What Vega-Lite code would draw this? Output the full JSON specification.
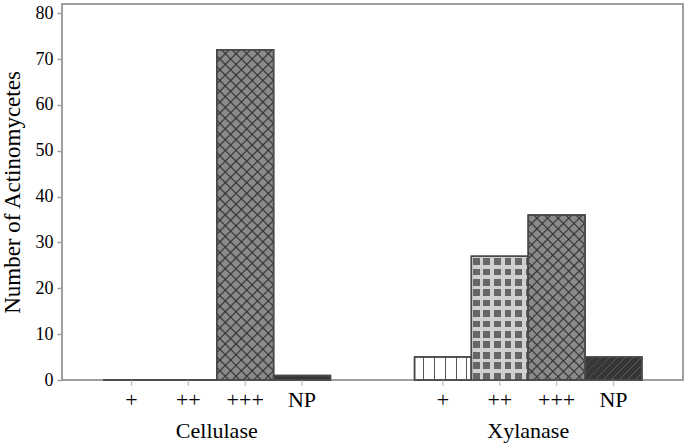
{
  "$schema": "https://vega.github.io/schema/vega-lite/v6.json",
  "width": 621,
  "height": 376,
  "autosize": {"type": "none"},
  "padding": {"left": 62, "top": 4, "right": 2, "bottom": 66},
  "background": "white",
  "config": {
    "font": "Liberation Serif",
    "view": {"stroke": "#a0a0a0", "strokeWidth": 2},
    "axis": {"grid": false, "domain": false, "labelColor": "black", "titleColor": "black", "labelFont": "Liberation Serif", "titleFont": "Liberation Serif", "titleFontWeight": "normal"}
  },
  "data": {
    "values": [
      {"enzyme": "Cellulase", "activity": "+", "count": 0},
      {"enzyme": "Cellulase", "activity": "++", "count": 0},
      {"enzyme": "Cellulase", "activity": "+++", "count": 72},
      {"enzyme": "Cellulase", "activity": "NP", "count": 1},
      {"enzyme": "Xylanase", "activity": "+", "count": 5},
      {"enzyme": "Xylanase", "activity": "++", "count": 27},
      {"enzyme": "Xylanase", "activity": "+++", "count": 36},
      {"enzyme": "Xylanase", "activity": "NP", "count": 5}
    ]
  },
  "encoding": {
    "x": {
      "field": "enzyme", "type": "nominal",
      "scale": {"paddingInner": 0.27, "paddingOuter": 0.132},
      "axis": {"title": null, "ticks": false, "tickSize": 0, "labelPadding": 40, "labelFontSize": 22, "labelAngle": 0}
    },
    "xOffset": {
      "field": "activity", "type": "nominal",
      "scale": {"domain": ["+", "++", "+++", "NP"], "paddingInner": 0, "paddingOuter": 0}
    }
  },
  "layer": [
    {
      "mark": {"type": "bar", "stroke": "#4a4a4a", "strokeWidth": 1.5},
      "encoding": {
        "y": {
          "field": "count", "type": "quantitative",
          "scale": {"domain": [0, 82], "nice": false},
          "axis": {"title": "Number of Actinomycetes", "titleFontSize": 23, "titlePadding": 11, "values": [0, 10, 20, 30, 40, 50, 60, 70, 80], "labelFontSize": 18, "labelPadding": 4, "tickSize": 5, "tickColor": "#a0a0a0", "tickWidth": 1.5}
        },
        "fill": {
          "condition": [
            {"test": "datum.activity === '+'", "value": {"gradient": "linear", "x1": 0, "y1": 0, "x2": 1, "y2": 0, "stops": [
              {"offset": 0, "color": "#ffffff"}, {"offset": 0.145, "color": "#ffffff"}, {"offset": 0.145, "color": "#555555"}, {"offset": 0.173, "color": "#555555"}, {"offset": 0.173, "color": "#ffffff"},
              {"offset": 0.338, "color": "#ffffff"}, {"offset": 0.338, "color": "#555555"}, {"offset": 0.366, "color": "#555555"}, {"offset": 0.366, "color": "#ffffff"},
              {"offset": 0.53, "color": "#ffffff"}, {"offset": 0.53, "color": "#555555"}, {"offset": 0.558, "color": "#555555"}, {"offset": 0.558, "color": "#ffffff"},
              {"offset": 0.723, "color": "#ffffff"}, {"offset": 0.723, "color": "#555555"}, {"offset": 0.751, "color": "#555555"}, {"offset": 0.751, "color": "#ffffff"},
              {"offset": 0.9, "color": "#ffffff"}, {"offset": 0.9, "color": "#555555"}, {"offset": 0.928, "color": "#555555"}, {"offset": 0.928, "color": "#ffffff"}, {"offset": 1, "color": "#ffffff"}
            ]}},
            {"test": "datum.activity === '++'", "value": {"gradient": "linear", "x1": 0, "y1": 0, "x2": 0, "y2": 1, "stops": [
              {"offset":0,"color":"#d0d0d0"},
              {"offset":0.0162,"color":"#d0d0d0"},{"offset":0.0162,"color":"#666"},{"offset":0.0703,"color":"#666"},{"offset":0.0703,"color":"#d0d0d0"},
              {"offset":0.1002,"color":"#d0d0d0"},{"offset":0.1002,"color":"#666"},{"offset":0.1543,"color":"#666"},{"offset":0.1543,"color":"#d0d0d0"},
              {"offset":0.1842,"color":"#d0d0d0"},{"offset":0.1842,"color":"#666"},{"offset":0.2383,"color":"#666"},{"offset":0.2383,"color":"#d0d0d0"},
              {"offset":0.2682,"color":"#d0d0d0"},{"offset":0.2682,"color":"#666"},{"offset":0.3223,"color":"#666"},{"offset":0.3223,"color":"#d0d0d0"},
              {"offset":0.3522,"color":"#d0d0d0"},{"offset":0.3522,"color":"#666"},{"offset":0.4063,"color":"#666"},{"offset":0.4063,"color":"#d0d0d0"},
              {"offset":0.4362,"color":"#d0d0d0"},{"offset":0.4362,"color":"#666"},{"offset":0.4903,"color":"#666"},{"offset":0.4903,"color":"#d0d0d0"},
              {"offset":0.5203,"color":"#d0d0d0"},{"offset":0.5203,"color":"#666"},{"offset":0.5744,"color":"#666"},{"offset":0.5744,"color":"#d0d0d0"},
              {"offset":0.6043,"color":"#d0d0d0"},{"offset":0.6043,"color":"#666"},{"offset":0.6584,"color":"#666"},{"offset":0.6584,"color":"#d0d0d0"},
              {"offset":0.6883,"color":"#d0d0d0"},{"offset":0.6883,"color":"#666"},{"offset":0.7424,"color":"#666"},{"offset":0.7424,"color":"#d0d0d0"},
              {"offset":0.7723,"color":"#d0d0d0"},{"offset":0.7723,"color":"#666"},{"offset":0.8264,"color":"#666"},{"offset":0.8264,"color":"#d0d0d0"},
              {"offset":0.8563,"color":"#d0d0d0"},{"offset":0.8563,"color":"#666"},{"offset":0.9104,"color":"#666"},{"offset":0.9104,"color":"#d0d0d0"},
              {"offset":0.9403,"color":"#d0d0d0"},{"offset":0.9403,"color":"#666"},{"offset":0.9944,"color":"#666"},{"offset":0.9944,"color":"#d0d0d0"},
              {"offset":1,"color":"#d0d0d0"}
            ]}},
            {"test": "datum.activity === '+++'", "value": "#8a8a8a"}
          ],
          "value": "#363636"
        }
      }
    },
    {
      "transform": [{"filter": "datum.activity === '++'"}],
      "mark": {"type": "bar", "strokeWidth": 0, "fill": {"gradient": "linear", "x1": 0, "y1": 0, "x2": 1, "y2": 0, "stops": [
        {"offset":0,"color":"#d0d0d0"},{"offset":0.0264,"color":"#d0d0d0"},{"offset":0.0264,"color":"transparent"},{"offset":0.1444,"color":"transparent"},{"offset":0.1444,"color":"#d0d0d0"},
        {"offset":0.213,"color":"#d0d0d0"},{"offset":0.213,"color":"transparent"},{"offset":0.331,"color":"transparent"},{"offset":0.331,"color":"#d0d0d0"},
        {"offset":0.3996,"color":"#d0d0d0"},{"offset":0.3996,"color":"transparent"},{"offset":0.5176,"color":"transparent"},{"offset":0.5176,"color":"#d0d0d0"},
        {"offset":0.5862,"color":"#d0d0d0"},{"offset":0.5862,"color":"transparent"},{"offset":0.7042,"color":"transparent"},{"offset":0.7042,"color":"#d0d0d0"},
        {"offset":0.7728,"color":"#d0d0d0"},{"offset":0.7728,"color":"transparent"},{"offset":0.8908,"color":"transparent"},{"offset":0.8908,"color":"#d0d0d0"},
        {"offset":0.9594,"color":"#d0d0d0"},{"offset":0.9594,"color":"transparent"},{"offset":1,"color":"transparent"}
      ]}},
      "encoding": {"y": {"field": "count", "type": "quantitative"}}
    },
    {
      "transform": [{"filter": "datum.activity === '+++'"}],
      "mark": {"type": "bar", "strokeWidth": 0},
      "encoding": {
        "y": {"field": "count", "type": "quantitative"},
        "fill": {
          "condition": {"test": "datum.enzyme === 'Cellulase'", "value": {"gradient": "linear", "x1": 0, "y1": 0, "x2": 0.196, "y2": 1.1385, "stops": [
            {"offset":0,"color":"transparent"},{"offset":0.004,"color":"#444"},{"offset":0.008,"color":"transparent"},
            {"offset":0.0278,"color":"transparent"},{"offset":0.0318,"color":"#444"},{"offset":0.0358,"color":"transparent"},
            {"offset":0.0556,"color":"transparent"},{"offset":0.0596,"color":"#444"},{"offset":0.0636,"color":"transparent"},
            {"offset":0.0833,"color":"transparent"},{"offset":0.0873,"color":"#444"},{"offset":0.0913,"color":"transparent"},
            {"offset":0.1111,"color":"transparent"},{"offset":0.1151,"color":"#444"},{"offset":0.1191,"color":"transparent"},
            {"offset":0.1389,"color":"transparent"},{"offset":0.1429,"color":"#444"},{"offset":0.1469,"color":"transparent"},
            {"offset":0.1667,"color":"transparent"},{"offset":0.1707,"color":"#444"},{"offset":0.1747,"color":"transparent"},
            {"offset":0.1944,"color":"transparent"},{"offset":0.1984,"color":"#444"},{"offset":0.2024,"color":"transparent"},
            {"offset":0.2222,"color":"transparent"},{"offset":0.2262,"color":"#444"},{"offset":0.2302,"color":"transparent"},
            {"offset":0.25,"color":"transparent"},{"offset":0.254,"color":"#444"},{"offset":0.258,"color":"transparent"},
            {"offset":0.2778,"color":"transparent"},{"offset":0.2818,"color":"#444"},{"offset":0.2858,"color":"transparent"},
            {"offset":0.3056,"color":"transparent"},{"offset":0.3096,"color":"#444"},{"offset":0.3136,"color":"transparent"},
            {"offset":0.3333,"color":"transparent"},{"offset":0.3373,"color":"#444"},{"offset":0.3413,"color":"transparent"},
            {"offset":0.3611,"color":"transparent"},{"offset":0.3651,"color":"#444"},{"offset":0.3691,"color":"transparent"},
            {"offset":0.3889,"color":"transparent"},{"offset":0.3929,"color":"#444"},{"offset":0.3969,"color":"transparent"},
            {"offset":0.4167,"color":"transparent"},{"offset":0.4207,"color":"#444"},{"offset":0.4247,"color":"transparent"},
            {"offset":0.4444,"color":"transparent"},{"offset":0.4484,"color":"#444"},{"offset":0.4524,"color":"transparent"},
            {"offset":0.4722,"color":"transparent"},{"offset":0.4762,"color":"#444"},{"offset":0.4802,"color":"transparent"},
            {"offset":0.5,"color":"transparent"},{"offset":0.504,"color":"#444"},{"offset":0.508,"color":"transparent"},
            {"offset":0.5278,"color":"transparent"},{"offset":0.5318,"color":"#444"},{"offset":0.5358,"color":"transparent"},
            {"offset":0.5556,"color":"transparent"},{"offset":0.5596,"color":"#444"},{"offset":0.5636,"color":"transparent"},
            {"offset":0.5833,"color":"transparent"},{"offset":0.5873,"color":"#444"},{"offset":0.5913,"color":"transparent"},
            {"offset":0.6111,"color":"transparent"},{"offset":0.6151,"color":"#444"},{"offset":0.6191,"color":"transparent"},
            {"offset":0.6389,"color":"transparent"},{"offset":0.6429,"color":"#444"},{"offset":0.6469,"color":"transparent"},
            {"offset":0.6667,"color":"transparent"},{"offset":0.6707,"color":"#444"},{"offset":0.6747,"color":"transparent"},
            {"offset":0.6944,"color":"transparent"},{"offset":0.6984,"color":"#444"},{"offset":0.7024,"color":"transparent"},
            {"offset":0.7222,"color":"transparent"},{"offset":0.7262,"color":"#444"},{"offset":0.7302,"color":"transparent"},
            {"offset":0.75,"color":"transparent"},{"offset":0.754,"color":"#444"},{"offset":0.758,"color":"transparent"},
            {"offset":0.7778,"color":"transparent"},{"offset":0.7818,"color":"#444"},{"offset":0.7858,"color":"transparent"},
            {"offset":0.8056,"color":"transparent"},{"offset":0.8096,"color":"#444"},{"offset":0.8136,"color":"transparent"},
            {"offset":0.8333,"color":"transparent"},{"offset":0.8373,"color":"#444"},{"offset":0.8413,"color":"transparent"},
            {"offset":0.8611,"color":"transparent"},{"offset":0.8651,"color":"#444"},{"offset":0.8691,"color":"transparent"},
            {"offset":0.8889,"color":"transparent"},{"offset":0.8929,"color":"#444"},{"offset":0.8969,"color":"transparent"},
            {"offset":0.9167,"color":"transparent"},{"offset":0.9207,"color":"#444"},{"offset":0.9247,"color":"transparent"},
            {"offset":0.9444,"color":"transparent"},{"offset":0.9484,"color":"#444"},{"offset":0.9524,"color":"transparent"},
            {"offset":0.9722,"color":"transparent"},{"offset":0.9762,"color":"#444"},{"offset":0.9802,"color":"transparent"}
          ]}},
          "value": {"gradient": "linear", "x1": 0, "y1": 0, "x2": 0.4135, "y2": 1.2018, "stops": [
            {"offset":0,"color":"transparent"},{"offset":0.0067,"color":"#444"},{"offset":0.0134,"color":"transparent"},
            {"offset":0.0476,"color":"transparent"},{"offset":0.0543,"color":"#444"},{"offset":0.061,"color":"transparent"},
            {"offset":0.0952,"color":"transparent"},{"offset":0.1019,"color":"#444"},{"offset":0.1086,"color":"transparent"},
            {"offset":0.1429,"color":"transparent"},{"offset":0.1496,"color":"#444"},{"offset":0.1563,"color":"transparent"},
            {"offset":0.1905,"color":"transparent"},{"offset":0.1972,"color":"#444"},{"offset":0.2039,"color":"transparent"},
            {"offset":0.2381,"color":"transparent"},{"offset":0.2448,"color":"#444"},{"offset":0.2515,"color":"transparent"},
            {"offset":0.2857,"color":"transparent"},{"offset":0.2924,"color":"#444"},{"offset":0.2991,"color":"transparent"},
            {"offset":0.3333,"color":"transparent"},{"offset":0.34,"color":"#444"},{"offset":0.3467,"color":"transparent"},
            {"offset":0.381,"color":"transparent"},{"offset":0.3877,"color":"#444"},{"offset":0.3944,"color":"transparent"},
            {"offset":0.4286,"color":"transparent"},{"offset":0.4353,"color":"#444"},{"offset":0.442,"color":"transparent"},
            {"offset":0.4762,"color":"transparent"},{"offset":0.4829,"color":"#444"},{"offset":0.4896,"color":"transparent"},
            {"offset":0.5238,"color":"transparent"},{"offset":0.5305,"color":"#444"},{"offset":0.5372,"color":"transparent"},
            {"offset":0.5714,"color":"transparent"},{"offset":0.5781,"color":"#444"},{"offset":0.5848,"color":"transparent"},
            {"offset":0.619,"color":"transparent"},{"offset":0.6257,"color":"#444"},{"offset":0.6324,"color":"transparent"},
            {"offset":0.6667,"color":"transparent"},{"offset":0.6734,"color":"#444"},{"offset":0.6801,"color":"transparent"},
            {"offset":0.7143,"color":"transparent"},{"offset":0.721,"color":"#444"},{"offset":0.7277,"color":"transparent"},
            {"offset":0.7619,"color":"transparent"},{"offset":0.7686,"color":"#444"},{"offset":0.7753,"color":"transparent"},
            {"offset":0.8095,"color":"transparent"},{"offset":0.8162,"color":"#444"},{"offset":0.8229,"color":"transparent"},
            {"offset":0.8571,"color":"transparent"},{"offset":0.8638,"color":"#444"},{"offset":0.8705,"color":"transparent"},
            {"offset":0.9048,"color":"transparent"},{"offset":0.9115,"color":"#444"},{"offset":0.9182,"color":"transparent"},
            {"offset":0.9524,"color":"transparent"},{"offset":0.9591,"color":"#444"},{"offset":0.9658,"color":"transparent"}
          ]}
        }
      }
    },
    {
      "transform": [{"filter": "datum.activity === '+++'"}],
      "mark": {"type": "bar", "strokeWidth": 0},
      "encoding": {
        "y": {"field": "count", "type": "quantitative"},
        "fill": {
          "condition": {"test": "datum.enzyme === 'Cellulase'", "value": {"gradient": "linear", "x1": 0, "y1": 1, "x2": 0.196, "y2": -0.1385, "stops": [
            {"offset":0,"color":"transparent"},{"offset":0.004,"color":"#444"},{"offset":0.008,"color":"transparent"},
            {"offset":0.0278,"color":"transparent"},{"offset":0.0318,"color":"#444"},{"offset":0.0358,"color":"transparent"},
            {"offset":0.0556,"color":"transparent"},{"offset":0.0596,"color":"#444"},{"offset":0.0636,"color":"transparent"},
            {"offset":0.0833,"color":"transparent"},{"offset":0.0873,"color":"#444"},{"offset":0.0913,"color":"transparent"},
            {"offset":0.1111,"color":"transparent"},{"offset":0.1151,"color":"#444"},{"offset":0.1191,"color":"transparent"},
            {"offset":0.1389,"color":"transparent"},{"offset":0.1429,"color":"#444"},{"offset":0.1469,"color":"transparent"},
            {"offset":0.1667,"color":"transparent"},{"offset":0.1707,"color":"#444"},{"offset":0.1747,"color":"transparent"},
            {"offset":0.1944,"color":"transparent"},{"offset":0.1984,"color":"#444"},{"offset":0.2024,"color":"transparent"},
            {"offset":0.2222,"color":"transparent"},{"offset":0.2262,"color":"#444"},{"offset":0.2302,"color":"transparent"},
            {"offset":0.25,"color":"transparent"},{"offset":0.254,"color":"#444"},{"offset":0.258,"color":"transparent"},
            {"offset":0.2778,"color":"transparent"},{"offset":0.2818,"color":"#444"},{"offset":0.2858,"color":"transparent"},
            {"offset":0.3056,"color":"transparent"},{"offset":0.3096,"color":"#444"},{"offset":0.3136,"color":"transparent"},
            {"offset":0.3333,"color":"transparent"},{"offset":0.3373,"color":"#444"},{"offset":0.3413,"color":"transparent"},
            {"offset":0.3611,"color":"transparent"},{"offset":0.3651,"color":"#444"},{"offset":0.3691,"color":"transparent"},
            {"offset":0.3889,"color":"transparent"},{"offset":0.3929,"color":"#444"},{"offset":0.3969,"color":"transparent"},
            {"offset":0.4167,"color":"transparent"},{"offset":0.4207,"color":"#444"},{"offset":0.4247,"color":"transparent"},
            {"offset":0.4444,"color":"transparent"},{"offset":0.4484,"color":"#444"},{"offset":0.4524,"color":"transparent"},
            {"offset":0.4722,"color":"transparent"},{"offset":0.4762,"color":"#444"},{"offset":0.4802,"color":"transparent"},
            {"offset":0.5,"color":"transparent"},{"offset":0.504,"color":"#444"},{"offset":0.508,"color":"transparent"},
            {"offset":0.5278,"color":"transparent"},{"offset":0.5318,"color":"#444"},{"offset":0.5358,"color":"transparent"},
            {"offset":0.5556,"color":"transparent"},{"offset":0.5596,"color":"#444"},{"offset":0.5636,"color":"transparent"},
            {"offset":0.5833,"color":"transparent"},{"offset":0.5873,"color":"#444"},{"offset":0.5913,"color":"transparent"},
            {"offset":0.6111,"color":"transparent"},{"offset":0.6151,"color":"#444"},{"offset":0.6191,"color":"transparent"},
            {"offset":0.6389,"color":"transparent"},{"offset":0.6429,"color":"#444"},{"offset":0.6469,"color":"transparent"},
            {"offset":0.6667,"color":"transparent"},{"offset":0.6707,"color":"#444"},{"offset":0.6747,"color":"transparent"},
            {"offset":0.6944,"color":"transparent"},{"offset":0.6984,"color":"#444"},{"offset":0.7024,"color":"transparent"},
            {"offset":0.7222,"color":"transparent"},{"offset":0.7262,"color":"#444"},{"offset":0.7302,"color":"transparent"},
            {"offset":0.75,"color":"transparent"},{"offset":0.754,"color":"#444"},{"offset":0.758,"color":"transparent"},
            {"offset":0.7778,"color":"transparent"},{"offset":0.7818,"color":"#444"},{"offset":0.7858,"color":"transparent"},
            {"offset":0.8056,"color":"transparent"},{"offset":0.8096,"color":"#444"},{"offset":0.8136,"color":"transparent"},
            {"offset":0.8333,"color":"transparent"},{"offset":0.8373,"color":"#444"},{"offset":0.8413,"color":"transparent"},
            {"offset":0.8611,"color":"transparent"},{"offset":0.8651,"color":"#444"},{"offset":0.8691,"color":"transparent"},
            {"offset":0.8889,"color":"transparent"},{"offset":0.8929,"color":"#444"},{"offset":0.8969,"color":"transparent"},
            {"offset":0.9167,"color":"transparent"},{"offset":0.9207,"color":"#444"},{"offset":0.9247,"color":"transparent"},
            {"offset":0.9444,"color":"transparent"},{"offset":0.9484,"color":"#444"},{"offset":0.9524,"color":"transparent"},
            {"offset":0.9722,"color":"transparent"},{"offset":0.9762,"color":"#444"},{"offset":0.9802,"color":"transparent"}
          ]}},
          "value": {"gradient": "linear", "x1": 0, "y1": 1, "x2": 0.4135, "y2": -0.2018, "stops": [
            {"offset":0,"color":"transparent"},{"offset":0.0067,"color":"#444"},{"offset":0.0134,"color":"transparent"},
            {"offset":0.0476,"color":"transparent"},{"offset":0.0543,"color":"#444"},{"offset":0.061,"color":"transparent"},
            {"offset":0.0952,"color":"transparent"},{"offset":0.1019,"color":"#444"},{"offset":0.1086,"color":"transparent"},
            {"offset":0.1429,"color":"transparent"},{"offset":0.1496,"color":"#444"},{"offset":0.1563,"color":"transparent"},
            {"offset":0.1905,"color":"transparent"},{"offset":0.1972,"color":"#444"},{"offset":0.2039,"color":"transparent"},
            {"offset":0.2381,"color":"transparent"},{"offset":0.2448,"color":"#444"},{"offset":0.2515,"color":"transparent"},
            {"offset":0.2857,"color":"transparent"},{"offset":0.2924,"color":"#444"},{"offset":0.2991,"color":"transparent"},
            {"offset":0.3333,"color":"transparent"},{"offset":0.34,"color":"#444"},{"offset":0.3467,"color":"transparent"},
            {"offset":0.381,"color":"transparent"},{"offset":0.3877,"color":"#444"},{"offset":0.3944,"color":"transparent"},
            {"offset":0.4286,"color":"transparent"},{"offset":0.4353,"color":"#444"},{"offset":0.442,"color":"transparent"},
            {"offset":0.4762,"color":"transparent"},{"offset":0.4829,"color":"#444"},{"offset":0.4896,"color":"transparent"},
            {"offset":0.5238,"color":"transparent"},{"offset":0.5305,"color":"#444"},{"offset":0.5372,"color":"transparent"},
            {"offset":0.5714,"color":"transparent"},{"offset":0.5781,"color":"#444"},{"offset":0.5848,"color":"transparent"},
            {"offset":0.619,"color":"transparent"},{"offset":0.6257,"color":"#444"},{"offset":0.6324,"color":"transparent"},
            {"offset":0.6667,"color":"transparent"},{"offset":0.6734,"color":"#444"},{"offset":0.6801,"color":"transparent"},
            {"offset":0.7143,"color":"transparent"},{"offset":0.721,"color":"#444"},{"offset":0.7277,"color":"transparent"},
            {"offset":0.7619,"color":"transparent"},{"offset":0.7686,"color":"#444"},{"offset":0.7753,"color":"transparent"},
            {"offset":0.8095,"color":"transparent"},{"offset":0.8162,"color":"#444"},{"offset":0.8229,"color":"transparent"},
            {"offset":0.8571,"color":"transparent"},{"offset":0.8638,"color":"#444"},{"offset":0.8705,"color":"transparent"},
            {"offset":0.9048,"color":"transparent"},{"offset":0.9115,"color":"#444"},{"offset":0.9182,"color":"transparent"},
            {"offset":0.9524,"color":"transparent"},{"offset":0.9591,"color":"#444"},{"offset":0.9658,"color":"transparent"}
          ]}
        }
      }
    },
    {
      "transform": [{"filter": "datum.activity === 'NP' && datum.enzyme === 'Xylanase'"}],
      "mark": {"type": "bar", "strokeWidth": 0, "fill": {"gradient": "linear", "x1": 0, "y1": 0, "x2": 1.207, "y2": 0.487, "stops": [
        {"offset":0,"color":"transparent"},{"offset":0.015,"color":"#777"},{"offset":0.03,"color":"transparent"},
        {"offset":0.1,"color":"transparent"},{"offset":0.115,"color":"#777"},{"offset":0.13,"color":"transparent"},
        {"offset":0.2,"color":"transparent"},{"offset":0.215,"color":"#777"},{"offset":0.23,"color":"transparent"},
        {"offset":0.3,"color":"transparent"},{"offset":0.315,"color":"#777"},{"offset":0.33,"color":"transparent"},
        {"offset":0.4,"color":"transparent"},{"offset":0.415,"color":"#777"},{"offset":0.43,"color":"transparent"},
        {"offset":0.5,"color":"transparent"},{"offset":0.515,"color":"#777"},{"offset":0.53,"color":"transparent"},
        {"offset":0.6,"color":"transparent"},{"offset":0.615,"color":"#777"},{"offset":0.63,"color":"transparent"},
        {"offset":0.7,"color":"transparent"},{"offset":0.715,"color":"#777"},{"offset":0.73,"color":"transparent"},
        {"offset":0.8,"color":"transparent"},{"offset":0.815,"color":"#777"},{"offset":0.83,"color":"transparent"},
        {"offset":0.9,"color":"transparent"},{"offset":0.915,"color":"#777"},{"offset":0.93,"color":"transparent"}
      ]}},
      "encoding": {"y": {"field": "count", "type": "quantitative"}}
    },
    {
      "mark": {"type": "bar", "fillOpacity": 0, "stroke": "#4a4a4a", "strokeWidth": 1.5},
      "encoding": {"y": {"field": "count", "type": "quantitative"}}
    },
    {
      "mark": {"type": "tick", "orient": "vertical", "size": 6, "thickness": 1.2, "color": "#a0a0a0", "yOffset": 3},
      "encoding": {"y": {"datum": 0}}
    },
    {
      "mark": {"type": "text", "baseline": "alphabetic", "dy": 27, "fontSize": 22, "color": "black", "font": "Liberation Serif"},
      "encoding": {"y": {"datum": 0}, "text": {"field": "activity"}}
    }
  ]
}
